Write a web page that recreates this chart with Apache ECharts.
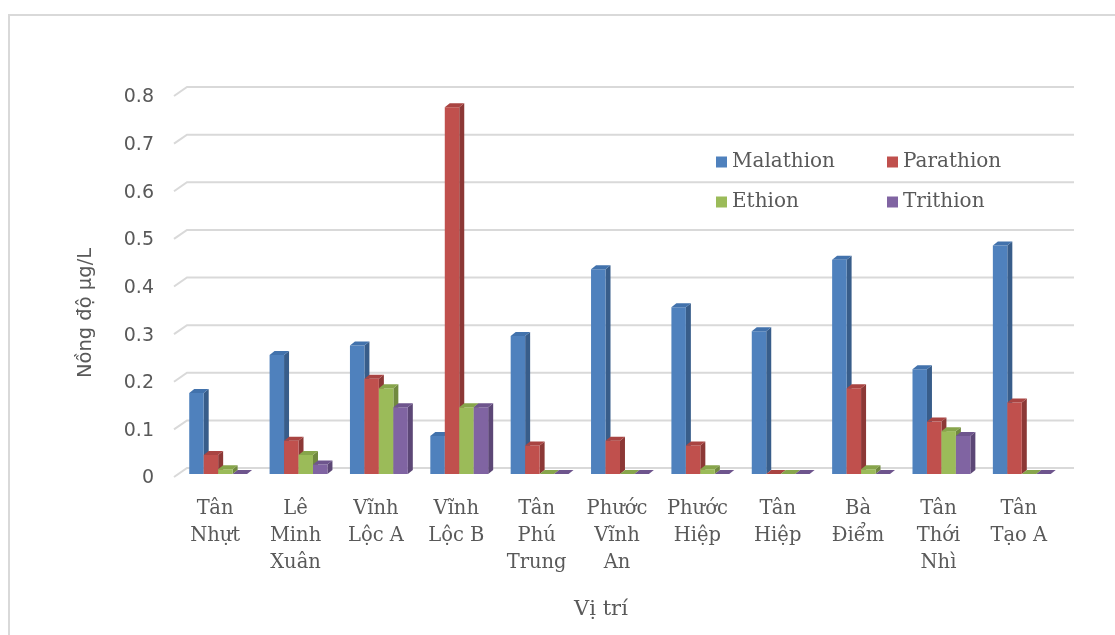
<!DOCTYPE html>
<html>
<head>
<meta charset="utf-8">
<script src="https://cdn.jsdelivr.net/npm/echarts@6/dist/echarts.min.js"></script>
<style>
  html, body { margin: 0; padding: 0; background: #ffffff; }
  #chart { width: 1115px; height: 635px; }
</style>
</head>
<body>
<div id="chart"></div>
<script>
// Sampling sites (x axis)
const categories = [
  'Tân\nNhựt', 'Lê\nMinh\nXuân', 'Vĩnh\nLộc A', 'Vĩnh\nLộc B', 'Tân\nPhú\nTrung',
  'Phước\nVĩnh\nAn', 'Phước\nHiệp', 'Tân\nHiệp', 'Bà\nĐiểm', 'Tân\nThới\nNhì', 'Tân\nTạo A'
];

// Concentrations, µg/L
const malathion = [0.17, 0.25, 0.27, 0.08, 0.29, 0.43, 0.35, 0.30, 0.45, 0.22, 0.48];
const parathion = [0.04, 0.07, 0.20, 0.77, 0.06, 0.07, 0.06, 0.00, 0.18, 0.11, 0.15];
const ethion    = [0.01, 0.04, 0.18, 0.14, 0.00, 0.00, 0.01, 0.00, 0.01, 0.09, 0.00];
const trithion  = [0.00, 0.02, 0.14, 0.14, 0.00, 0.00, 0.00, 0.00, 0.00, 0.08, 0.00];

// Value axis ticks
const yTicks = [0, 0.1, 0.2, 0.3, 0.4, 0.5, 0.6, 0.7, 0.8];

const seriesNames = ['Malathion', 'Parathion', 'Ethion', 'Trithion'];
const seriesValues = [malathion, parathion, ethion, trithion];
// front / top / side shades of each column
const shades = [
  { front: '#4F81BD', top: '#4272AC', side: '#385D8A' },
  { front: '#C0504D', top: '#A94442', side: '#8C3836' },
  { front: '#9BBB59', top: '#87A54B', side: '#71893F' },
  { front: '#8064A2', top: '#6E558D', side: '#5C4776' }
];

const DEPTH_X = 5, DEPTH_Y = -4;
const serif = '"DejaVu Serif", "Liberation Serif", serif';
const sans = '"DejaVu Sans", "Noto Sans", sans-serif';
const textColor = '#595959';

// 3D-looking column: front face, top face and right side face
function columnRenderer(si) {
  const s = shades[si];
  return function (params, api) {
    const cat = api.value(0);
    const v = api.value(1);
    const topPt = api.coord([cat, v]);
    const basePt = api.coord([cat, 0]);
    const band = api.size([1, 0])[0];
    const w = band * 0.18;
    const x = topPt[0] + band * 0.037 + (si - 2) * w;
    const yTop = topPt[1];
    const yBase = basePt[1];
    const children = [];
    if (yBase - yTop > 0) {
      children.push({
        type: 'polygon',
        shape: { points: [[x + w, yTop], [x + w + DEPTH_X, yTop + DEPTH_Y], [x + w + DEPTH_X, yBase + DEPTH_Y], [x + w, yBase]] },
        style: { fill: s.side }
      });
      children.push({
        type: 'rect',
        shape: { x: x, y: yTop, width: w, height: yBase - yTop },
        style: { fill: s.front }
      });
    }
    children.push({
      type: 'polygon',
      shape: { points: [[x, yTop], [x + DEPTH_X, yTop + DEPTH_Y], [x + w + DEPTH_X, yTop + DEPTH_Y], [x + w, yTop]] },
      style: { fill: s.top }
    });
    return { type: 'group', children: children };
  };
}

// Back-wall gridlines with the short floor-to-wall diagonal on the left
function gridRenderer(params, api) {
  const v = api.value(1);
  const p = api.coord([0, v]);
  const cs = params.coordSys;
  const y = p[1];
  return {
    type: 'polyline',
    shape: { points: [[cs.x - 1, y + 3], [cs.x + 12, y - 6], [cs.x + cs.width + 15, y - 6]] },
    style: { stroke: '#D9D9D9', lineWidth: 2, fill: null }
  };
}

const series = [{
  name: 'grid',
  type: 'custom',
  silent: true,
  z: 1,
  renderItem: gridRenderer,
  encode: { x: 0, y: 1 },
  data: yTicks.map(t => [0, t])
}];
seriesNames.forEach((name, si) => {
  series.push({
    name: name,
    type: 'custom',
    z: 2,
    itemStyle: { color: shades[si].front },
    renderItem: columnRenderer(si),
    encode: { x: 0, y: 1 },
    data: seriesValues[si].map((v, i) => [i, v])
  });
});

const legendCommon = {
  orient: 'vertical',
  icon: 'rect',
  itemWidth: 11,
  itemHeight: 11,
  itemGap: 20,
  top: 147,
  textStyle: { fontFamily: serif, fontSize: 20, color: textColor, lineHeight: 20 }
};

const chart = echarts.init(document.getElementById('chart'), null, { renderer: 'canvas' });
chart.setOption({
  animation: false,
  backgroundColor: '#ffffff',
  grid: { left: 175, right: 56, top: 93, bottom: 161, containLabel: false },
  legend: [
    Object.assign({ left: 711, data: ['Malathion', 'Ethion'] }, legendCommon),
    Object.assign({ left: 882, data: ['Parathion', 'Trithion'] }, legendCommon)
  ],
  xAxis: {
    type: 'category',
    data: categories,
    axisLine: { show: false },
    axisTick: { show: false },
    splitLine: { show: false },
    axisLabel: {
      interval: 0,
      margin: 21,
      fontFamily: serif,
      fontSize: 19.5,
      lineHeight: 27,
      color: textColor,
      align: 'center'
    }
  },
  yAxis: {
    type: 'value',
    min: 0,
    max: 0.8,
    interval: 0.1,
    axisLine: { show: false },
    axisTick: { show: false },
    splitLine: { show: false },
    axisLabel: {
      margin: 21,
      fontFamily: sans,
      fontSize: 19,
      color: textColor,
      verticalAlign: 'top',
      lineHeight: 9
    }
  },
  graphic: [
    {
      type: 'rect',
      silent: true,
      z: -10,
      shape: { x: 9, y: 15, width: 1130, height: 650 },
      style: { fill: null, stroke: '#D9D9D9', lineWidth: 2 }
    },
    {
      type: 'text',
      silent: true,
      x: 86,
      y: 313,
      rotation: Math.PI / 2,
      style: {
        text: 'Nồng độ µg/L',
        fontFamily: sans,
        fontSize: 19.5,
        fill: textColor,
        align: 'center',
        verticalAlign: 'middle'
      }
    },
    {
      type: 'text',
      silent: true,
      x: 601,
      y: 610,
      style: {
        text: 'Vị trí',
        fontFamily: serif,
        fontSize: 21,
        fill: textColor,
        align: 'center',
        verticalAlign: 'middle'
      }
    }
  ],
  series: series
});
</script>
</body>
</html>
